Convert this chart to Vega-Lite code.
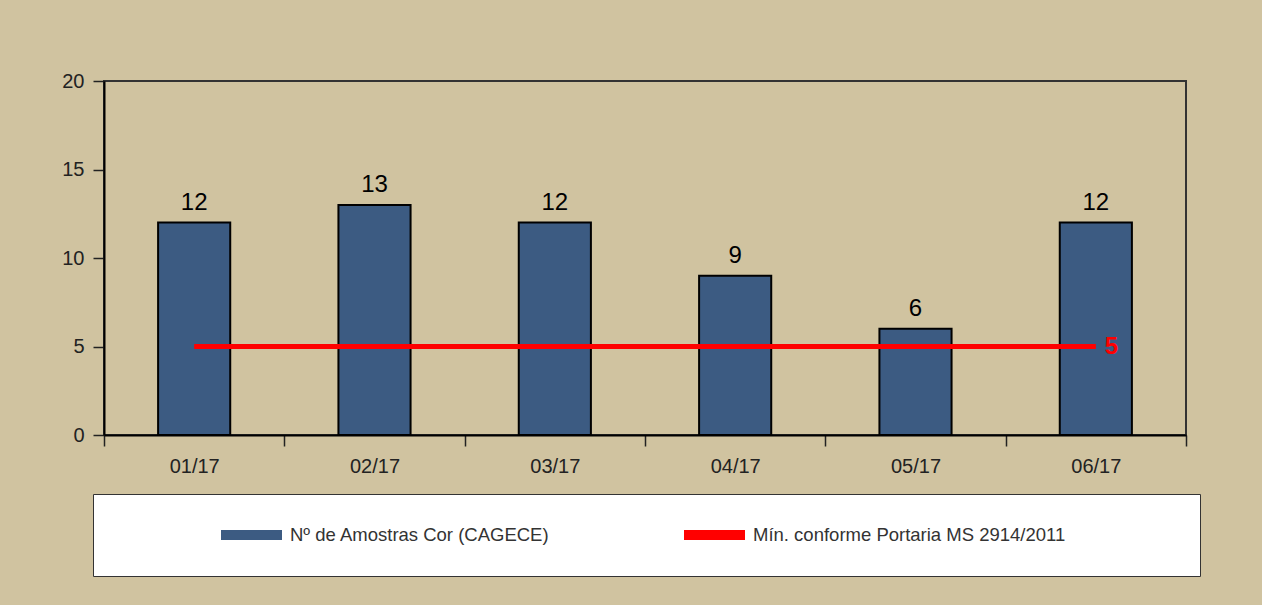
{
  "$schema": "https://vega.github.io/schema/vega-lite/v6.json",
  "width": 1082,
  "height": 354,
  "autosize": {"type": "none"},
  "padding": {"left": 104, "top": 81, "right": 76, "bottom": 170},
  "background": "#D0C3A0",
  "data": {
    "values": [
      {"mes": "01/17", "amostras": 12, "minimo": 5},
      {"mes": "02/17", "amostras": 13, "minimo": 5},
      {"mes": "03/17", "amostras": 12, "minimo": 5},
      {"mes": "04/17", "amostras": 9, "minimo": 5},
      {"mes": "05/17", "amostras": 6, "minimo": 5},
      {"mes": "06/17", "amostras": 12, "minimo": 5}
    ]
  },
  "encoding": {
    "x": {
      "field": "mes",
      "type": "nominal",
      "sort": null,
      "title": null,
      "scale": {"paddingInner": 0, "paddingOuter": 0},
      "axis": {
        "labelAngle": 0,
        "labelFont": "Liberation Sans",
        "labelFontSize": 20,
        "labelColor": "#222222",
        "labelPadding": 10,
        "tickBand": "extent",
        "tickSize": 11,
        "tickColor": "#222222",
        "tickWidth": 1.5,
        "domainColor": "#000000",
        "domainWidth": 2,
        "grid": false
      }
    }
  },
  "layer": [
    {
      "mark": {"type": "bar", "stroke": "#000000", "strokeWidth": 2, "width": {"band": 0.4}},
      "encoding": {
        "y": {
          "field": "amostras",
          "type": "quantitative",
          "title": null,
          "scale": {"domain": [0, 20], "nice": false},
          "axis": {
            "values": [0, 5, 10, 15, 20],
            "labelFont": "Liberation Sans",
            "labelFontSize": 20,
            "labelColor": "#222222",
            "labelPadding": 9,
            "tickSize": 11,
            "tickColor": "#222222",
            "tickWidth": 1.5,
            "domainColor": "#000000",
            "domainWidth": 2,
            "grid": false
          }
        },
        "color": {
          "datum": "Nº de Amostras Cor (CAGECE)",
          "type": "nominal",
          "scale": {
            "domain": ["Nº de Amostras Cor (CAGECE)", "Mín. conforme Portaria MS 2914/2011"],
            "range": ["#3C5B82", "#FF0000"]
          },
          "legend": {
            "title": null,
            "orient": "none",
            "legendX": -11,
            "legendY": 413,
            "direction": "horizontal",
            "columns": 2,
            "padding": 31,
            "clipHeight": 20,
            "symbolOffset": 97,
            "labelOffset": 8,
            "columnPadding": 37,
            "symbolSize": 3721,
            "symbolType": "M-1,-0.16H1V0.16H-1Z",
            "symbolStrokeWidth": 0,
            "fillColor": "#FFFFFF",
            "strokeColor": "#333333",
            "labelFont": "Liberation Sans",
            "labelFontSize": 18.5,
            "labelColor": "#333333",
            "labelLimit": 900,
            "labelExpr": "datum.index === 1 ? datum.label + '\u00a0\u00a0\u00a0\u00a0\u00a0\u00a0\u00a0\u00a0\u00a0\u00a0\u00a0\u00a0\u00a0\u00a0\u00a0\u00a0\u00a0\u00a0\u00a0\u00a0\u200b' : datum.label"
          }
        }
      }
    },
    {
      "mark": {"type": "text", "baseline": "alphabetic", "dy": -13, "font": "Liberation Sans", "fontSize": 24, "color": "#000000"},
      "encoding": {
        "y": {"field": "amostras", "type": "quantitative"},
        "text": {"field": "amostras", "type": "quantitative"}
      }
    },
    {
      "mark": {"type": "line", "strokeWidth": 5},
      "encoding": {
        "y": {"field": "minimo", "type": "quantitative"},
        "color": {"datum": "Mín. conforme Portaria MS 2914/2011", "type": "nominal"}
      }
    },
    {
      "transform": [{"filter": "datum.mes === '06/17'"}],
      "mark": {"type": "text", "align": "left", "baseline": "middle", "dx": 9, "font": "Liberation Sans", "fontSize": 24, "fontWeight": "bold", "color": "#FF0000"},
      "encoding": {
        "y": {"field": "minimo", "type": "quantitative"},
        "text": {"field": "minimo", "type": "quantitative"}
      }
    }
  ],
  "config": {
    "view": {"stroke": "#333333", "strokeWidth": 2},
    "font": "Liberation Sans"
  }
}
